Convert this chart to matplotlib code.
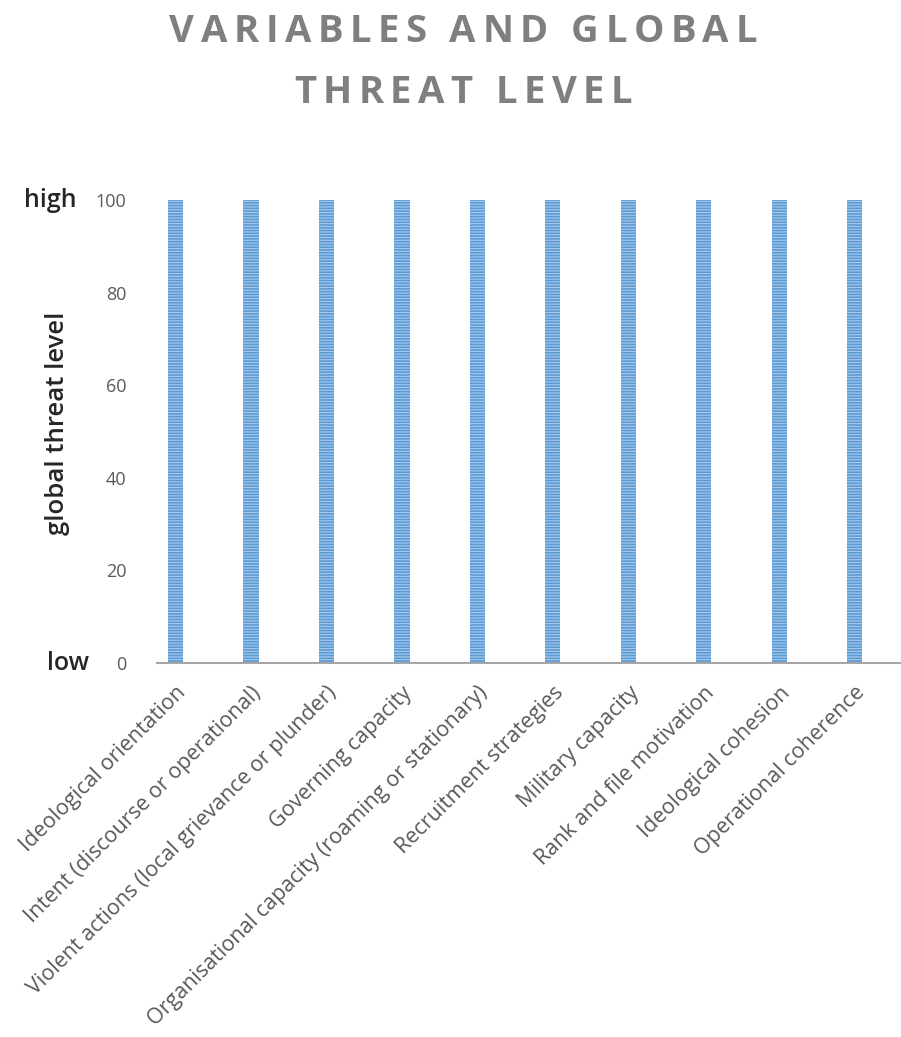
import matplotlib.pyplot as plt
import numpy as np

# Data
variables = [
    "Ideological orientation",
    "Intent (discourse or operational)",
    "Violent actions (local grievance or plunder)",
    "Governing capacity",
    "Organisational capacity (roaming or stationary)",
    "Recruitment strategies",
    "Military capacity",
    "Rank and file motivation",
    "Ideological cohesion",
    "Operational coherence",
]
threat_level = [100, 100, 100, 100, 100, 100, 100, 100, 100, 100]
y_ticks = [0, 20, 40, 60, 80, 100]
title_lines = ["VARIABLES AND GLOBAL", "THREAT LEVEL"]

FONTS = ["Open Sans", "DejaVu Sans"]
plt.rcParams["font.family"] = FONTS
plt.rcParams["hatch.linewidth"] = 0.8

fig = plt.figure(figsize=(9.01, 10.37), dpi=100)
ax = fig.add_axes([0.1743, 0.3607, 0.8247, 0.4464])

x = np.arange(len(variables))
ax.bar(x, threat_level, width=0.2, color="#5b9bd5", edgecolor="#a9c9ec",
       linewidth=0, hatch="------")

ax.set_ylim(0, 100)
ax.set_xlim(-0.245, 9.6)
ax.set_yticks(y_ticks)
ax.set_yticklabels([str(t) for t in y_ticks], color="#595959", fontsize=13)
ax.set_xticks(x)
ax.set_xticklabels(variables, rotation=45, ha="right", rotation_mode="anchor",
                   color="#595959", fontsize=15.5)
ax.tick_params(axis="both", length=0)
ax.tick_params(axis="y", pad=22)
ax.tick_params(axis="x", pad=14)

for side in ["top", "right", "left"]:
    ax.spines[side].set_visible(False)
ax.spines["bottom"].set_color("#a6a6a6")
ax.spines["bottom"].set_linewidth(1.5)

# axis title and high / low markers
fig.text(58 / 901, 1 - 423 / 1037, "global threat level", rotation=90,
         ha="center", va="center", fontsize=18.5, color="#262626",
         fontweight="semibold")
fig.text(77 / 901, 1 - 200 / 1037, "high", ha="right", va="center",
         fontsize=18, color="#262626", fontweight="semibold")
fig.text(89 / 901, 1 - 663 / 1037, "low", ha="right", va="center",
         fontsize=18, color="#262626", fontweight="semibold")

# title with letter spacing: place each letter by hand
renderer = fig.canvas.get_renderer()
fig_w = fig.bbox.width
title_style = dict(fontsize=27.5, fontweight="bold", color="#7f7f7f",
                   va="center", ha="left")
tracking = 6.5  # extra px between letters
for text, ypos in zip(title_lines, [0.969, 0.910]):
    widths = []
    for ch in text:
        if ch == " ":
            probe = fig.text(0, 0, "A A", **title_style)
            w_full = probe.get_window_extent(renderer).width
            probe.set_text("AA")
            w_pair = probe.get_window_extent(renderer).width
            probe.remove()
            widths.append(w_full - w_pair)
        else:
            probe = fig.text(0, 0, ch, **title_style)
            widths.append(probe.get_window_extent(renderer).width)
            probe.remove()
    total = sum(widths) + tracking * (len(text) - 1)
    xpos = 0.514 * fig_w - total / 2
    for ch, w in zip(text, widths):
        if ch != " ":
            fig.text(xpos / fig_w, ypos, ch, **title_style)
        xpos += w + tracking

fig.savefig("out.png", dpi=100)
